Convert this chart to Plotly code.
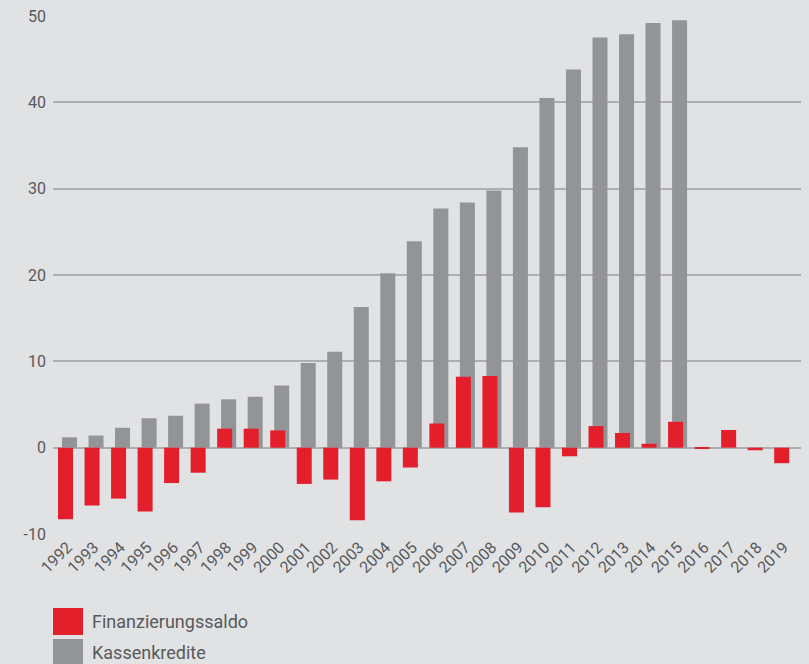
import plotly.graph_objects as go

years = list(range(1992, 2020))
kassenkredite = [1.2, 1.4, 2.3, 3.4, 3.7, 5.1, 5.6, 5.9, 7.2, 9.8, 11.1, 16.3, 20.2, 23.9,
                 27.7, 28.4, 29.8, 34.8, 40.5, 43.8, 47.5, 47.9, 49.2, 49.5,
                 None, None, None, None]
finanzierungssaldo = [-8.3, -6.7, -5.9, -7.4, -4.1, -2.9, 2.2, 2.2, 2.0, -4.2, -3.7, -8.4,
                      -3.9, -2.3, 2.8, 8.2, 8.3, -7.5, -6.9, -1.0, 2.5, 1.7, 0.45, 3.0,
                      -0.05, 2.05, -0.3, -1.8]
y_ticks = [-10, 0, 10, 20, 30, 40, 50]
y_tick_labels = ["-10", "0", "10", "20", "30", "40", "50"]
series_names = ["Finanzierungssaldo", "Kassenkredite"]

RED = "#e41f2c"
GREY = "#939498"
BG = "#e1e2e4"
TXT = "#58595b"
FONT = "Liberation Sans Narrow, Roboto, Arial"

fig = go.Figure()
fig.add_trace(go.Bar(x=years, y=kassenkredite, name=series_names[1], marker_color=GREY,
                     width=0.566, offset=-0.208, marker_line_width=0, showlegend=False))
fig.add_trace(go.Bar(x=years, y=finanzierungssaldo, name=series_names[0], marker_color=RED,
                     width=0.566, offset=-0.358, marker_line_width=0, showlegend=False))

# legend drawn as squares + text
for i, (name, col) in enumerate(zip(series_names, [RED, GREY])):
    y0 = 608 + i * 31
    fig.add_shape(type="rect", xref="paper", yref="paper",
                  x0=0, x1=(83 - 53) / 748,
                  y0=(534 - (y0 + 27)) / 518,
                  y1=(534 - y0) / 518,
                  fillcolor=col, line_width=0)
    fig.add_annotation(xref="paper", yref="paper", x=(90 - 53) / 748,
                       y=(534 - (y0 + 13.5)) / 518, text=name, showarrow=False,
                       xanchor="left", yanchor="middle",
                       font=dict(family=FONT, size=18, color=TXT))

fig.update_layout(
    width=809, height=664,
    margin=dict(l=53, r=8, t=16, b=130),
    paper_bgcolor=BG, plot_bgcolor=BG,
    barmode="overlay",
    font=dict(family=FONT, color=TXT),
    showlegend=False,
)
fig.update_xaxes(range=[1991.453, 2019.653], tickvals=years, ticktext=[str(y) for y in years],
                 tickangle=-45, tickfont=dict(size=16, color=TXT), showgrid=False,
                 zeroline=False, showline=False, ticks="", automargin=False)
fig.update_yaxes(range=[-10, 50], tickvals=y_ticks, ticktext=y_tick_labels,
                 tickfont=dict(size=16, color=TXT),
                 showgrid=True, gridcolor="#adaeb0", gridwidth=1.5,
                 zeroline=True, zerolinecolor="#adaeb0", zerolinewidth=1.5,
                 ticks="", ticklabelstandoff=6, automargin=False)

fig.write_html("out.html", config={"displayModeBar": False},
               post_script="document.body.style.margin='0';document.body.style.background='#e1e2e4';")
